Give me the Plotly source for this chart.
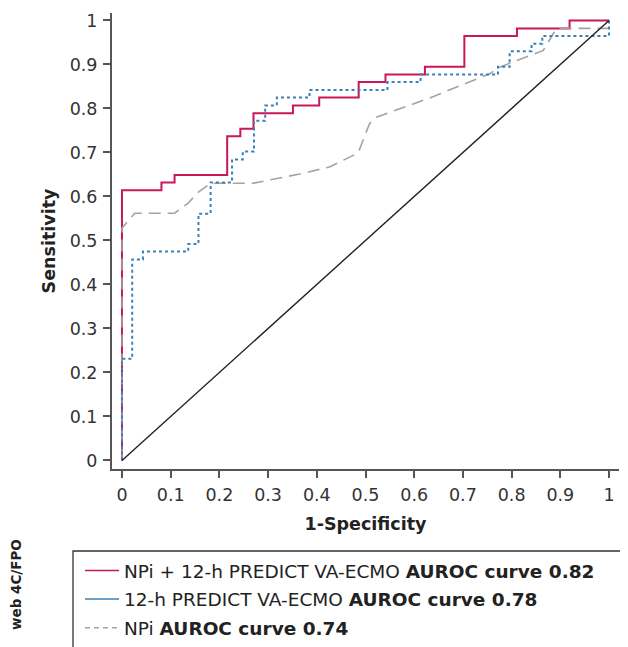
import plotly.graph_objects as go

# ROC curve data
# NPi + 12-h PREDICT VA-ECMO (step curve)
combo_fpr = [0, 0, 0.081, 0.108, 0.216, 0.243, 0.270, 0.351, 0.405, 0.486, 0.541, 0.622, 0.703, 0.811, 0.919, 1.0]
combo_tpr = [0, 0.614, 0.632, 0.649, 0.737, 0.754, 0.789, 0.807, 0.825, 0.860, 0.877, 0.895, 0.965, 0.982, 1.0, 1.0]

# 12-h PREDICT VA-ECMO (step curve)
predict_fpr = [0, 0, 0.021, 0.021, 0.043, 0.136, 0.157, 0.182, 0.226, 0.248, 0.271, 0.294, 0.318, 0.385,
               0.545, 0.613, 0.772, 0.796, 0.841, 0.863, 1.0]
predict_tpr = [0, 0.231, 0.247, 0.457, 0.475, 0.492, 0.561, 0.632, 0.684, 0.702, 0.772, 0.807, 0.825, 0.842,
               0.860, 0.877, 0.895, 0.930, 0.947, 0.965, 1.0]

# NPi (smoothed curve)
npi_fpr = [0, 0, 0.026, 0.108, 0.136, 0.157, 0.182, 0.269, 0.365, 0.426, 0.485, 0.508, 0.522, 0.632,
           0.755, 0.776, 0.865, 0.892, 1.0, 1.0]
npi_tpr = [0, 0.528, 0.562, 0.562, 0.585, 0.610, 0.630, 0.630, 0.651, 0.667, 0.699, 0.765, 0.780, 0.824,
           0.879, 0.894, 0.932, 0.982, 0.982, 1.0]

ref_x = [0, 1]
ref_y = [0, 1]

tick_vals = [0, 0.1, 0.2, 0.3, 0.4, 0.5, 0.6, 0.7, 0.8, 0.9, 1]
tick_text = ["0", "0.1", "0.2", "0.3", "0.4", "0.5", "0.6", "0.7", "0.8", "0.9", "1"]

legend_names = [
    "NPi + 12-h PREDICT VA-ECMO <b>AUROC curve 0.82</b>",
    "12-h PREDICT VA-ECMO <b>AUROC curve 0.78</b>",
    "NPi <b>AUROC curve 0.74</b>",
]

RED = "#c8175a"
BLUE = "#3a80b5"
GRAY = "#a3a3a3"
FONT = "DejaVu Sans, Liberation Sans, Arial, sans-serif"

# page has an 8px body margin; plot area target in page px: x 112-619, y 13-469
PW, PH = 507, 456

fig = go.Figure()

fig.add_trace(go.Scatter(x=combo_fpr, y=combo_tpr, mode="lines", line=dict(color=RED, width=2, shape="hv"),
                         showlegend=False, hoverinfo="skip"))
fig.add_trace(go.Scatter(x=npi_fpr, y=npi_tpr, mode="lines", line=dict(color=GRAY, width=1.6, dash="12px,7px"),
                         showlegend=False, hoverinfo="skip"))
fig.add_trace(go.Scatter(x=predict_fpr, y=predict_tpr, mode="lines",
                         line=dict(color=BLUE, width=2, shape="hv", dash="3px,3px"),
                         showlegend=False, hoverinfo="skip"))
fig.add_trace(go.Scatter(x=ref_x, y=ref_y, mode="lines", line=dict(color="#222222", width=1.4),
                         showlegend=False, hoverinfo="skip"))

# legend entries
fig.add_trace(go.Scatter(x=[None], y=[None], mode="lines", line=dict(color=RED, width=1.5),
                         name=legend_names[0], legendgroup="a"))
fig.add_trace(go.Scatter(x=[None], y=[None], mode="lines", line=dict(color=BLUE, width=1.5),
                         name=legend_names[1], legendgroup="b"))
fig.add_trace(go.Scatter(x=[None], y=[None], mode="lines", line=dict(color=GRAY, width=1.5, dash="5px,4px"),
                         name=legend_names[2], legendgroup="c"))

axis_common = dict(
    tickvals=tick_vals, ticktext=tick_text, showline=True, linecolor="#555555", linewidth=2,
    ticks="outside", ticklen=7, tickwidth=1.5, tickcolor="#555555", showgrid=False, zeroline=False,
    tickfont=dict(family=FONT, size=17.5, color="#333333"), automargin=False,
)

fig.update_layout(
    template="none",
    width=620, height=639,
    margin=dict(l=104, r=9, t=5, b=178, autoexpand=False),
    paper_bgcolor="white", plot_bgcolor="white",
    font=dict(family=FONT, color="#222222"),
    xaxis=dict(range=[-0.0205, 1.0205], title=dict(text="<b>1-Specificity</b>", font=dict(size=17.5, color="#222222"), standoff=14),
               ticklabelstandoff=2, **axis_common),
    yaxis=dict(range=[-0.0194, 1.017], title=dict(text="<b>Sensitivity</b>", font=dict(size=17.5, color="#222222"), standoff=10),
               ticklabelstandoff=2, **axis_common),
    legend=dict(x=(80 - 112) / PW, y=-(552 - 469) / PH, xanchor="left", yanchor="top", traceorder="grouped",
                tracegroupgap=1.5, itemwidth=34,
                font=dict(family=FONT, size=18.5, color="#222222"), bgcolor="rgba(0,0,0,0)", borderwidth=0),
    showlegend=True,
    shapes=[dict(type="rect", xref="paper", yref="paper", x0=(73 - 112) / PW, x1=1.2, y0=-(551 - 469) / PH, y1=-0.6,
                 line=dict(color="#333333", width=1.3), fillcolor="rgba(0,0,0,0)", layer="below")],
    annotations=[dict(text="<b>web 4C/FPO</b>", xref="paper", yref="paper", x=(16 - 112) / PW, y=(469 - 585) / PH,
                      textangle=-90, showarrow=False, xanchor="center", yanchor="middle",
                      font=dict(family=FONT, size=13.5, color="#222222"))],
)

fig.write_html("out.html")
